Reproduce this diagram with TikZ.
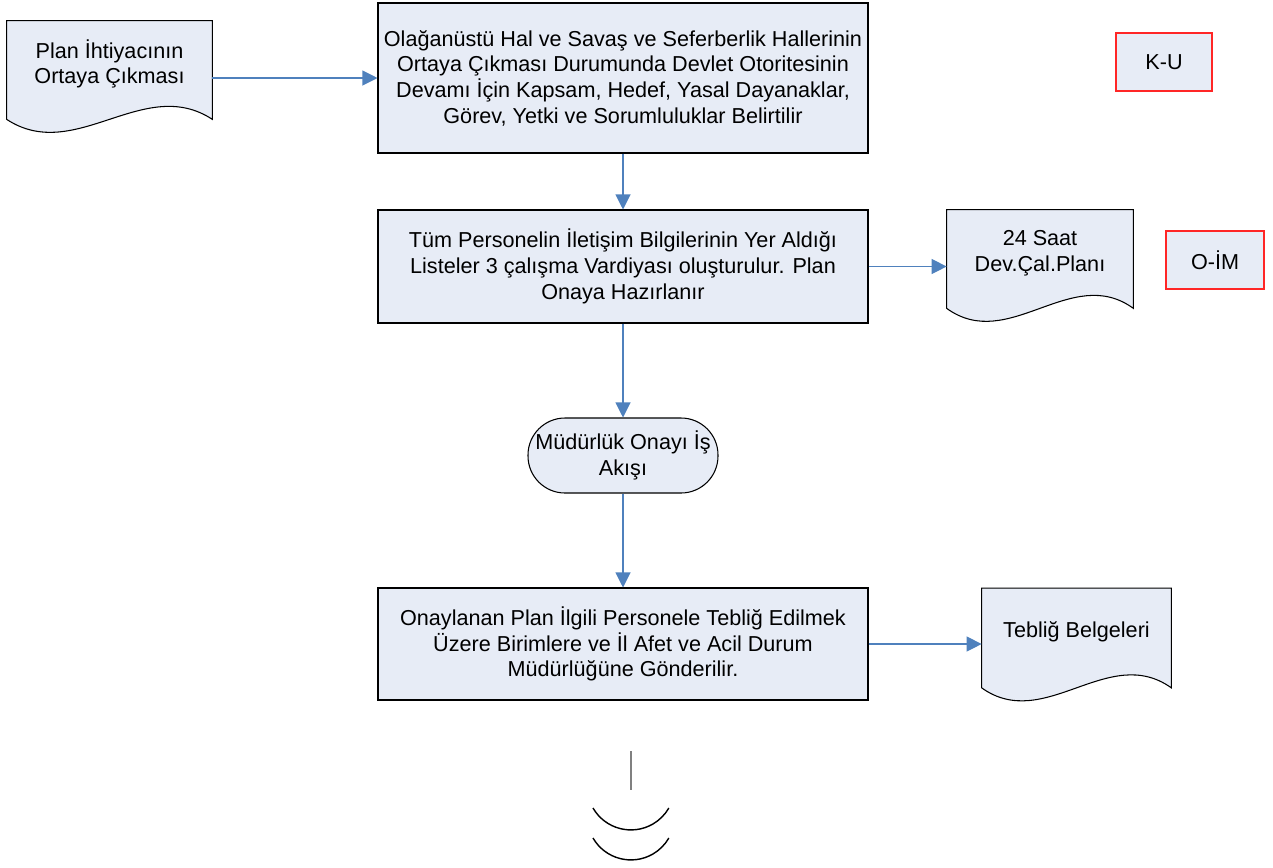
\documentclass[tikz,border=0pt]{standalone}
\usepackage{fontspec}
\setmainfont{Liberation Sans}
\usetikzlibrary{arrows.meta,backgrounds}

\definecolor{kasten}{RGB}{231,236,246}
\definecolor{pfeil}{RGB}{79,129,189}

\tikzset{
  kasten/.style={draw=black, line width=0.6pt, fill=kasten, align=center,
    font=\fontsize{12.3}{14.6}\selectfont, inner sep=0pt},
  dok/.style={align=center, font=\fontsize{12.3}{14.6}\selectfont, inner sep=0pt},
  marke/.style={kasten, draw=red!85!white},
  flow/.style={draw=pfeil, line width=0.6pt, -{Triangle[length=0.3cm,width=0.3cm]}},
  docline/.style={draw=black, line width=0.6pt, fill=kasten},
}

% Dokument mit Wellenlinie: #1 Knoten, #2 Drittel der Breite
\newcommand{\dokument}[2]{%
  \filldraw[docline] (#1.north west) -- (#1.north east) -- ([yshift=-0.24cm]#1.south east)
    .. controls +(-#2,0.9) and +(#2,-0.9) .. ([yshift=-0.24cm]#1.south west) -- cycle;}

\begin{document}
\begin{tikzpicture}
		\useasboundingbox (0,0) rectangle (25.46,-17.34);

		% Kästen
		\node[kasten, minimum width=9.8cm, minimum height=3cm] (ziel) at (12.46,-1.56)
		  {Olağanüstü Hal ve Savaş ve Seferberlik Hallerinin\\Ortaya Çıkması Durumunda Devlet Otoritesinin\\Devamı İçin Kapsam, Hedef, Yasal Dayanaklar,\\Görev, Yetki ve Sorumluluklar Belirtilir};
		\node[kasten, minimum width=9.8cm, minimum height=2.26cm] (liste) at (12.46,-5.33)
		  {Tüm Personelin İletişim Bilgilerinin Yer Aldığı\\Listeler 3 çalışma Vardiyası oluşturulur. Plan\\Onaya Hazırlanır};
		\node[kasten, minimum width=3.8cm, minimum height=1.5cm, rounded corners=0.74cm] (onay) at (12.46,-9.11)
		  {Müdürlük Onayı İş\\Akışı};
		\node[kasten, minimum width=9.8cm, minimum height=2.24cm] (teblig) at (12.46,-12.88)
		  {Onaylanan Plan İlgili Personele Tebliğ Edilmek\\Üzere Birimlere ve İl Afet ve Acil Durum\\Müdürlüğüne Gönderilir.};

		% Dokumente
		\node[dok, minimum width=4.1cm, minimum height=1.72cm] (bedarf) at (2.19,-1.28)
		  {Plan İhtiyacının\\Ortaya Çıkması};
		\node[dok, minimum width=3.72cm, minimum height=1.72cm] (saat) at (20.8,-5.06)
		  {24 Saat\\Dev.Çal.Planı};
		\node[dok, minimum width=3.78cm, minimum height=1.74cm] (belge) at (21.53,-12.64)
		  {Tebliğ Belgeleri};
		\begin{pgfonlayer}{background}
			\dokument{bedarf}{1.37}
			\dokument{saat}{1.24}
			\dokument{belge}{1.26}
		\end{pgfonlayer}

		% Marken
		\node[marke, minimum width=1.92cm, minimum height=1.16cm] (ku) at (23.28,-1.24) {K-U};
		\node[marke, minimum width=1.96cm, minimum height=1.16cm] (oim) at (24.3,-5.2) {O-İM};

		% Pfeile
		\draw[flow] (ziel.west -| bedarf.east) -- (ziel.west);
		\draw[flow] (ziel) -- (liste);
		\draw[flow] (liste.east) -- (liste.east -| saat.west);
		\draw[flow] (liste) -- (onay);
		\draw[flow] (onay) -- (teblig);
		\draw[flow] (teblig.east) -- (teblig.east -| belge.west);

		% Seitenende
		\coordinate (E1) at (12.62,-15.02);
		\coordinate (E2) at (12.62,-15.8);
		\draw[gray, line width=0.6pt] (E1) -- (E2);
		\draw[line width=0.8pt] (11.86,-16.16) arc[start angle=210, end angle=330, radius=0.876cm];
		\draw[line width=0.8pt] (11.86,-16.76) arc[start angle=210, end angle=330, radius=0.876cm];
	\end{tikzpicture}
\end{document}
